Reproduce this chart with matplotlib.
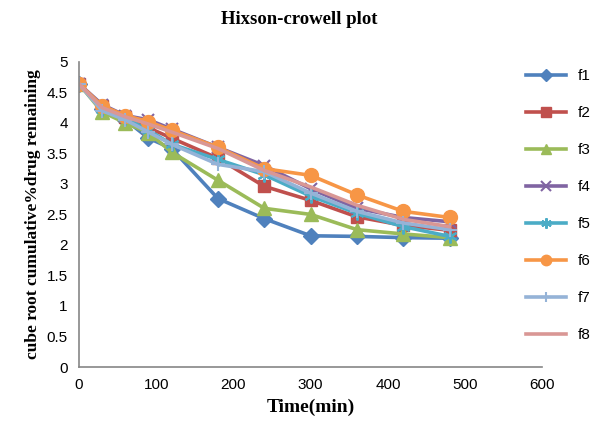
import matplotlib.pyplot as plt
from matplotlib.ticker import MultipleLocator, FormatStrFormatter

# sampling times (min)
time_min = [0, 30, 60, 90, 120, 180, 240, 300, 360, 420, 480]

# cube root of cumulative % drug remaining, per formulation
f1 = [4.64, 4.22, 4.05, 3.75, 3.58, 2.76, 2.43, 2.15, 2.14, 2.12, 2.11]
f2 = [4.64, 4.27, 4.10, 3.92, 3.75, 3.42, 2.96, 2.73, 2.46, 2.32, 2.24]
f3 = [4.64, 4.18, 4.00, 3.84, 3.52, 3.06, 2.60, 2.50, 2.25, 2.18, 2.12]
f4 = [4.64, 4.30, 4.12, 4.05, 3.90, 3.60, 3.30, 2.92, 2.60, 2.45, 2.38]
f5 = [4.64, 4.22, 4.08, 3.88, 3.65, 3.40, 3.15, 2.80, 2.52, 2.30, 2.14]
f6 = [4.64, 4.28, 4.12, 4.02, 3.88, 3.60, 3.25, 3.14, 2.82, 2.55, 2.45]
f7 = [4.64, 4.20, 4.05, 3.85, 3.65, 3.32, 3.20, 2.85, 2.55, 2.36, 2.25]
f8 = [4.64, 4.25, 4.10, 3.98, 3.85, 3.58, 3.22, 2.95, 2.65, 2.42, 2.30]

series = {'f1': f1, 'f2': f2, 'f3': f3, 'f4': f4,
          'f5': f5, 'f6': f6, 'f7': f7, 'f8': f8}

# excel-ish look
styles = {
    'f1': dict(color='#4F81BD', marker='D', ms=8),
    'f2': dict(color='#C0504D', marker='s', ms=9),
    'f3': dict(color='#9BBB59', marker='^', ms=10),
    'f4': dict(color='#8064A2', marker='x', ms=9, mew=1.5),
    'f5': dict(color='#4BACC6', marker=(6, 2, 0), ms=10, mew=1.5),
    'f6': dict(color='#F79646', marker='o', ms=10),
    'f7': dict(color='#95B3D7', marker='+', ms=10, mew=1.5),
    'f8': dict(color='#D99795', marker='None'),
}

fig = plt.figure(figsize=(5.98, 4.28), dpi=100)
ax = fig.add_axes([0.132, 0.1425, 0.775, 0.713])

for name, vals in series.items():
    ax.plot(time_min, vals, lw=2.6, label=name, **styles[name])

ax.set_xlim(0, 600)
ax.set_ylim(0, 5)
ax.xaxis.set_major_locator(MultipleLocator(100))
ax.yaxis.set_major_locator(MultipleLocator(0.5))
ax.yaxis.set_major_formatter(FormatStrFormatter('%g'))
ax.tick_params(length=0, labelsize=11, pad=8)
for lbl in ax.get_xticklabels() + ax.get_yticklabels():
    lbl.set_fontfamily('Liberation Sans')

for s in ['top', 'right']:
    ax.spines[s].set_visible(False)
for s in ['left', 'bottom']:
    ax.spines[s].set_color('#868686')
    ax.spines[s].set_linewidth(1.2)

serif = 'Liberation Serif'
fig.text(0.5, 0.955, 'Hixson-crowell plot', ha='center', va='center',
         fontsize=13.5, fontweight='bold', family=serif)
ax.set_xlabel('Time(min)', fontsize=14, fontweight='bold', family=serif, labelpad=5)
ax.set_ylabel('cube root cumulative%drug remaining', fontsize=12.5,
              fontweight='bold', family=serif, labelpad=4)

ax.legend(loc='upper left', bbox_to_anchor=(0.935, 1.02), frameon=False,
          labelspacing=1.5, handlelength=2.6, markerscale=0.75,
          prop={'family': 'Liberation Sans', 'size': 11})

fig.savefig('out.png', dpi=100)
